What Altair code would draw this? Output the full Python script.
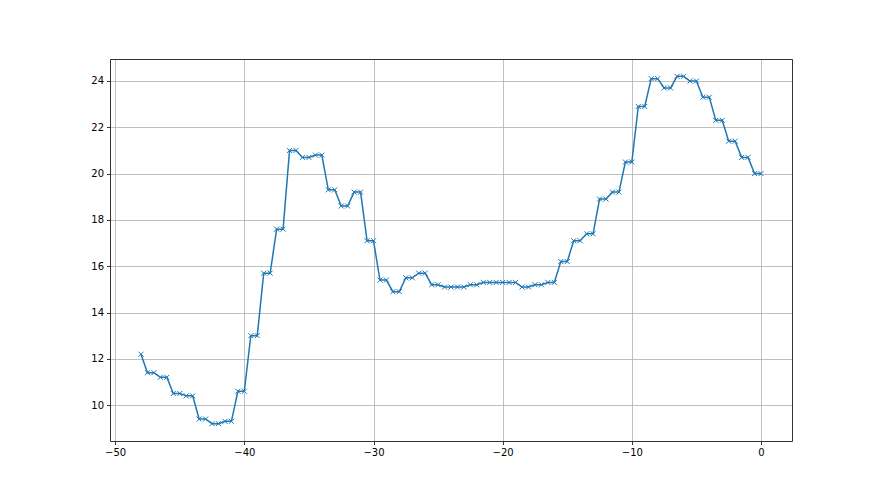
import altair as alt
import pandas as pd

# x positions: -48 then pairs (-47.5, -47), ..., (-0.5, 0)
x_vals = [-48.0, -47.5, -47.0, -46.5, -46.0, -45.5, -45.0, -44.5, -44.0, -43.5, -43.0,
          -42.5, -42.0, -41.5, -41.0, -40.5, -40.0, -39.5, -39.0, -38.5, -38.0,
          -37.5, -37.0, -36.5, -36.0, -35.5, -35.0, -34.5, -34.0, -33.5, -33.0,
          -32.5, -32.0, -31.5, -31.0, -30.5, -30.0, -29.5, -29.0, -28.5, -28.0,
          -27.5, -27.0, -26.5, -26.0, -25.5, -25.0, -24.5, -24.0, -23.5, -23.0,
          -22.5, -22.0, -21.5, -21.0, -20.5, -20.0, -19.5, -19.0, -18.5, -18.0,
          -17.5, -17.0, -16.5, -16.0, -15.5, -15.0, -14.5, -14.0, -13.5, -13.0,
          -12.5, -12.0, -11.5, -11.0, -10.5, -10.0, -9.5, -9.0, -8.5, -8.0,
          -7.5, -7.0, -6.5, -6.0, -5.5, -5.0, -4.5, -4.0, -3.5, -3.0,
          -2.5, -2.0, -1.5, -1.0, -0.5, 0.0]
y_vals = [12.2, 11.4, 11.4, 11.2, 11.2, 10.5, 10.5, 10.4, 10.4, 9.4, 9.4,
          9.2, 9.2, 9.3, 9.3, 10.6, 10.6, 13.0, 13.0, 15.7, 15.7,
          17.6, 17.6, 21.0, 21.0, 20.7, 20.7, 20.8, 20.8, 19.3, 19.3,
          18.6, 18.6, 19.2, 19.2, 17.1, 17.1, 15.4, 15.4, 14.9, 14.9,
          15.5, 15.5, 15.7, 15.7, 15.2, 15.2, 15.1, 15.1, 15.1, 15.1,
          15.2, 15.2, 15.3, 15.3, 15.3, 15.3, 15.3, 15.3, 15.1, 15.1,
          15.2, 15.2, 15.3, 15.3, 16.2, 16.2, 17.1, 17.1, 17.4, 17.4,
          18.9, 18.9, 19.2, 19.2, 20.5, 20.5, 22.9, 22.9, 24.1, 24.1,
          23.7, 23.7, 24.2, 24.2, 24.0, 24.0, 23.3, 23.3, 22.3, 22.3,
          21.4, 21.4, 20.7, 20.7, 20.0, 20.0]
x_ticks = [-50, -40, -30, -20, -10, 0]
y_ticks = [10, 12, 14, 16, 18, 20, 22, 24]

df = pd.DataFrame({"x": x_vals, "y": y_vals})

xs = alt.Scale(domain=[-50.4, 2.4], nice=False, zero=False)
ys = alt.Scale(domain=[8.45, 24.95], nice=False, zero=False)

axis_common = dict(
    grid=True, gridColor="#b0b0b0", gridWidth=0.8,
    domain=True, domainColor="#333333", domainWidth=1,
    tickColor="#000000", tickSize=3.5, tickWidth=0.8, labelColor="#000000",
    labelFont="DejaVu Sans", labelFontSize=10, labelPadding=3, title=None,
)
frame_axis = dict(grid=False, domain=True, domainColor="#333333", domainWidth=1,
                  ticks=False, labels=False, title=None)

base = alt.Chart(df)
line = base.mark_line(color="#1f77b4", strokeWidth=1.5, clip=True).encode(
    x=alt.X("x:Q", scale=xs, axis=alt.Axis(values=x_ticks, format="d", labelFlush=False, **axis_common)),
    y=alt.Y("y:Q", scale=ys, axis=alt.Axis(values=y_ticks, format="d", **axis_common)),
)
pts = base.mark_point(
    shape="M-1,-1L1,1M-1,1L1,-1", size=25, filled=False, color="#1f77b4", strokeWidth=1, opacity=1
).encode(
    x=alt.X("x:Q", scale=xs, axis=None),
    y=alt.Y("y:Q", scale=ys, axis=None),
)
frame = base.mark_point(opacity=0).encode(
    x=alt.X("x:Q", scale=xs, axis=alt.Axis(orient="top", **frame_axis)),
    y=alt.Y("y:Q", scale=ys, axis=alt.Axis(orient="right", **frame_axis)),
)

chart = alt.layer(line, pts, frame).resolve_axis(x="independent", y="independent").properties(
    width=682, height=382,
    autosize=alt.AutoSizeParams(type="none"),
    padding={"left": 102, "top": 51, "right": 80, "bottom": 46},
).configure_view(stroke=None).configure(background="#ffffff")

chart.save("out.html", embed_options={"renderer": "svg", "actions": False})
